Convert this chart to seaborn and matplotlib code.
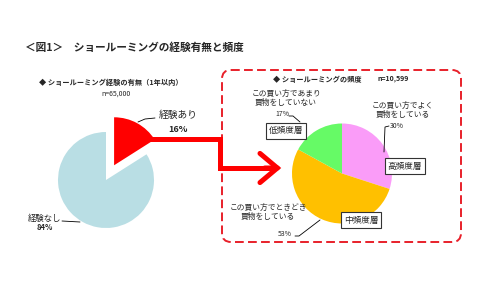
import matplotlib
matplotlib.use("Agg")
import matplotlib.pyplot as plt
from matplotlib.patches import FancyBboxPatch, FancyArrowPatch
import seaborn as sns

# ---- data ----
left_labels = ["経験あり", "経験なし"]
left_values = [16, 84]
right_labels = ["高頻度層", "中頻度層", "低頻度層"]
right_values = [30, 53, 17]
right_desc = ["この買い方でよく\n買物をしている",
              "この買い方でときどき\n買物をしている",
              "この買い方であまり\n買物をしていない"]
title = "＜図1＞　ショールーミングの経験有無と頻度"
left_sub = "◆ ショールーミング経験の有無（1年以内）"
left_n = "n=65,000"
right_sub = "◆ ショールーミングの頻度"
right_n = "n=10,599"

sns.set_theme(style="white")
plt.rcParams['font.family'] = ['Noto Sans CJK JP', 'DejaVu Sans']

left_colors = sns.color_palette(["#ff0000", "#b9dee4"])
right_colors = sns.color_palette(["#fa9cf8", "#ffc000", "#66fa66"])

W, H = 490, 300
fig = plt.figure(figsize=(W / 100, H / 100), dpi=100)
fig.patch.set_facecolor("white")


def pie_axes(cx, cy, r):
    return fig.add_axes([(cx - r) / W, (H - cy - r) / H, 2 * r / W, 2 * r / H])


# left pie
axl = pie_axes(106, 180, 48)
wl, _ = axl.pie(left_values, colors=left_colors, startangle=90, counterclock=False,
                explode=[0.35, 0], radius=1, wedgeprops=dict(linewidth=0))
for w in wl:
    w.set_clip_on(False)
axl.set_xlim(-1, 1)
axl.set_ylim(-1, 1)
axl.axis("off")

# right pie
axr = pie_axes(342, 173.5, 50)
wr, _ = axr.pie(right_values, colors=right_colors, startangle=90, counterclock=False,
                radius=1, wedgeprops=dict(linewidth=0))
for w in wr:
    w.set_clip_on(False)
axr.set_xlim(-1, 1)
axr.set_ylim(-1, 1)
axr.axis("off")

# overlay in pixel coordinates
ov = fig.add_axes([0, 0, 1, 1])
ov.set_xlim(0, W)
ov.set_ylim(H, 0)
ov.axis("off")
ov.patch.set_alpha(0)

ov.text(25, 48, title, fontsize=7.7, fontweight="bold", va="center", ha="left")
ov.text(39, 82, left_sub, fontsize=5.2, fontweight="bold", va="center", ha="left")
ov.text(116, 94, left_n, fontsize=5, va="center", ha="center")
ov.text(273, 79, right_sub, fontsize=5.2, fontweight="bold", va="center", ha="left")
ov.text(377, 79, right_n, fontsize=5, fontweight="bold", va="center", ha="left")

# dashed rounded box
box = FancyBboxPatch((222, 70), 239, 172, boxstyle="round,pad=0,rounding_size=9",
                     fill=False, edgecolor="#e8202a", linewidth=1.4, linestyle=(0, (4.5, 2.2)))
ov.add_patch(box)

# red elbow arrow
ov.plot([140, 220, 220, 276], [139, 139, 168, 168], color="#ff0000", lw=3.6,
        solid_joinstyle="miter", solid_capstyle="butt")
arr = FancyArrowPatch((262, 168), (284, 168), arrowstyle="->,head_length=1.25,head_width=1.05",
                      mutation_scale=10, color="#ff0000", lw=3.6, joinstyle="miter")
ov.add_patch(arr)

# left labels
ov.text(178, 115, left_labels[0], fontsize=7, ha="center", va="center")
ov.text(178, 129, f"{left_values[0]}%", fontsize=6.5, fontweight="bold", ha="center", va="center")
ov.plot([138, 145, 155], [122, 119, 118], color="black", lw=0.6)
ov.text(45, 218, left_labels[1], fontsize=6, ha="center", va="center")
ov.text(45, 228, f"{left_values[1]}%", fontsize=5.5, fontweight="bold", ha="center", va="center")
ov.plot([62, 80], [221, 222], color="black", lw=0.6)

# right descriptions
ov.text(403, 110, right_desc[0], fontsize=5.6, ha="center", va="center", linespacing=1.15)
ov.text(397, 126, f"{right_values[0]}%", fontsize=5, ha="center", va="center")
ov.plot([389, 385, 384], [126, 127, 152], color="black", lw=0.6)

ov.text(268, 212, right_desc[1], fontsize=5.6, ha="center", va="center", linespacing=1.15)
ov.text(285, 234, f"{right_values[1]}%", fontsize=5, ha="center", va="center")
ov.plot([295, 299, 320], [236, 236, 220], color="black", lw=0.6)

ov.text(286, 98, right_desc[2], fontsize=5.6, ha="center", va="center", linespacing=1.15)
ov.text(282, 114, f"{right_values[2]}%", fontsize=5, ha="center", va="center")
ov.plot([289, 293, 300], [116, 116, 122], color="black", lw=0.6)

# boxed segment names
bbox_kw = dict(boxstyle="square,pad=0.35", facecolor="white", edgecolor="#333333", linewidth=0.8)
ov.text(405, 166, right_labels[0], fontsize=6.2, ha="center", va="center", bbox=bbox_kw)
ov.text(361, 220, right_labels[1], fontsize=6.2, ha="center", va="center", bbox=bbox_kw)
ov.text(286, 131, right_labels[2], fontsize=6.2, ha="center", va="center", bbox=bbox_kw)

fig.savefig("out.png", dpi=100, facecolor="white")
